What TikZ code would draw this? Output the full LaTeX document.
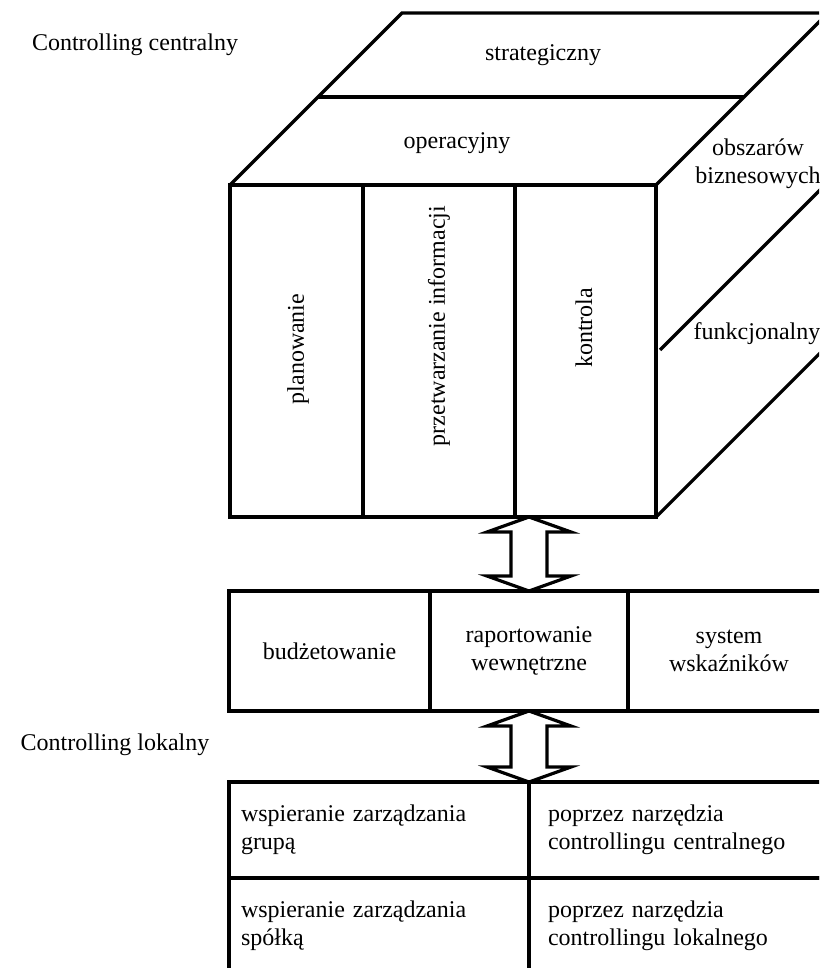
\documentclass[tikz,border=0pt]{standalone}
\usepackage{fontspec}
\setmainfont{Liberation Serif}
\usetikzlibrary{positioning}

\tikzset{
  thick line/.style={line width=3.2pt, line join=miter},
  box/.style={draw, thick line, minimum height=120pt, inner sep=0pt, outer sep=0pt, align=center},
  cell/.style={draw, thick line, minimum height=96pt, text width=276pt, inner xsep=12pt, inner ysep=0pt, outer sep=0pt, align=left},
  cellR/.style={cell, text width=262pt, inner xsep=19pt},
}
% fat two-headed arrow from top point #1 to bottom point #2
\newcommand{\dblarrow}[2]{%
  \draw[thick line, fill=white] (#1) -- ([shift={(42,15)}]#1) -- ([shift={(18,15)}]#1)
    -- ([shift={(18,-15)}]#2) -- ([shift={(42,-15)}]#2) -- (#2)
    -- ([shift={(-42,-15)}]#2) -- ([shift={(-18,-15)}]#2)
    -- ([shift={(-18,15)}]#1) -- ([shift={(-42,15)}]#1) -- cycle;}

\begin{document}
\begin{tikzpicture}[x=1pt, y=-1pt, every node/.style={font=\fontsize{24}{28}\selectfont}]
  \useasboundingbox (0,0) rectangle (819,968);
  \clip (0,0) rectangle (819,968);

  % cube
  \node[draw, thick line, minimum width=426pt, minimum height=332pt, inner sep=0pt, outer sep=0pt] (front) at (443,351) {};
  \draw[thick line] (front.north west) -- (402,13) -- (828,13) -- (front.north east);
  \draw[thick line] (front.south east) -- (828,345) -- (828,13);
  \draw[thick line] (318,97) -- (744,97);
  \draw[thick line] (660,350) -- (831,179);
  \draw[thick line] (363,185) -- (363,517);
  \draw[thick line] (515,185) -- (515,517);

  \node (strat) at (543,55)  {strategiczny};
  \node (oper)  at (457,143) {operacyjny};
  \node[align=center] (obsz) at (758,164) {obszarów\\biznesowych};
  \node (funk)  at (757,334) {funkcjonalny};
  \node[rotate=90] (plan)   at (298,349) {planowanie};
  \node[rotate=90] (przetw) at (439,326) {przetwarzanie informacji};
  \node[rotate=90] (kontr)  at (584,328) {kontrola};

  \node (cc) at (135,45)  {Controlling centralny};
  \node (cl) at (115,745) {Controlling lokalny};

  % middle row
  \node[box, minimum width=201pt] (budz) at (329.5,651) {budżetowanie};
  \node[box, minimum width=198pt, right=0pt of budz] (rap) {raportowanie\\wewnętrzne};
  \node[box, minimum width=202pt, right=0pt of rap] (sys) {system\\wskaźników\hspace{14pt}};

  % bottom table
  \node[cell, anchor=north west] (w1) at (229,782) {wspieranie zarządzania\\grupą};
  \node[cellR, right=0pt of w1] (p1) {poprzez narzędzia\\controllingu centralnego};
  \node[cell, below=0pt of w1] (w2) {wspieranie zarządzania\\spółką};
  \node[cellR, right=0pt of w2] (p2) {poprzez narzędzia\\controllingu lokalnego};

  \coordinate (a1) at ([xshift=86pt]front.south);
  \dblarrow{a1}{rap.north}
  \dblarrow{rap.south}{w1.north east}
\end{tikzpicture}
\end{document}
